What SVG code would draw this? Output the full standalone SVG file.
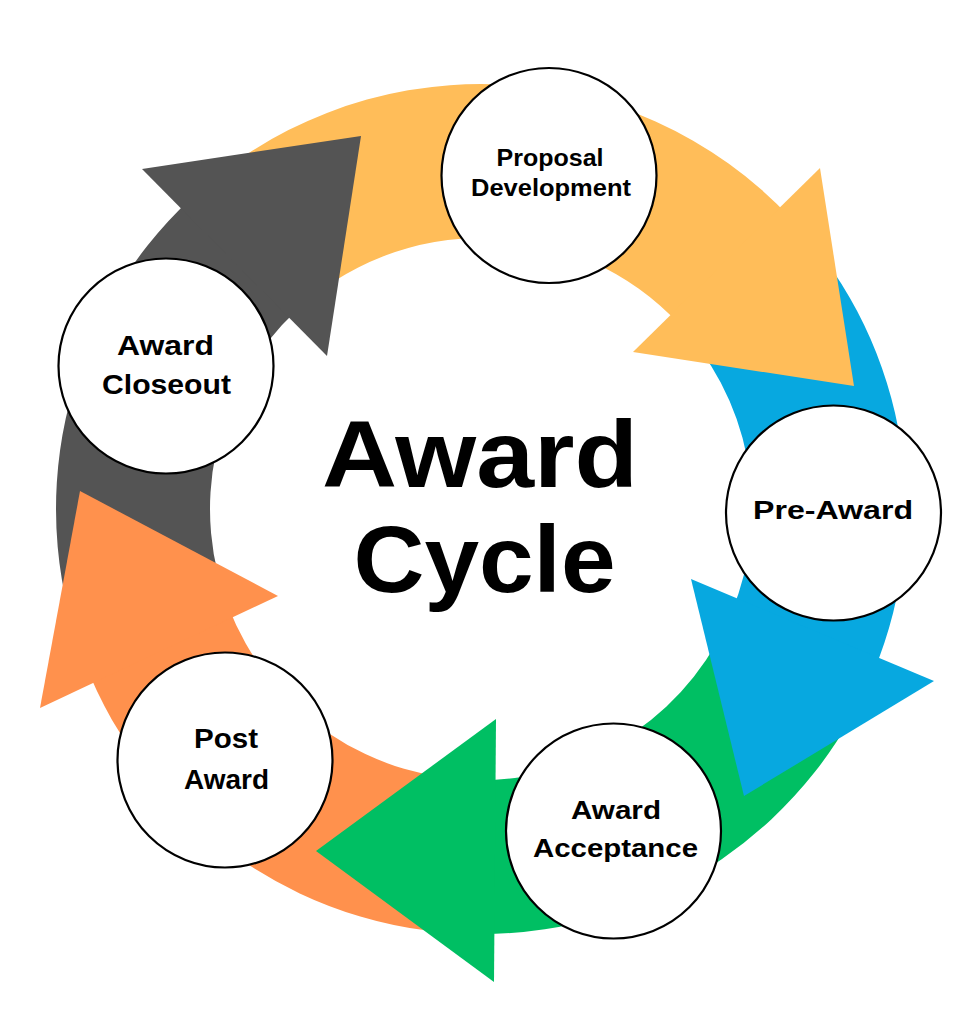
<svg xmlns="http://www.w3.org/2000/svg" width="963" height="1024" viewBox="0 0 963 1024">
  <style>
    .node circle { fill: #ffffff; stroke: #000000; stroke-width: 2.2; }
    .lbl { font-family: "Liberation Sans", Arial, sans-serif; font-weight: bold; fill: #000000; text-anchor: middle; }
    .big { font-family: "Liberation Sans", Arial, sans-serif; font-weight: bold; fill: #000000; text-anchor: middle; font-size: 94px; }
    .gray { fill: #545454; }
    .yellow { fill: #FFBD59; }
    .blue { fill: #07A8E0; }
    .green { fill: #00BF63; }
    .orange { fill: #FF914D; }
  </style>
  <rect x="0" y="0" width="963" height="1024" fill="#ffffff"/>
  <g id="connectors">
    <g id="ring-bodies">
      <path class="gray" d="M88.35,671.64 A425,425 0 0 1 191.15,198.18 L296.18,310.8 A271,271 0 0 0 230.63,612.71 Z"/>
      <path class="yellow" d="M185.77,203.28 A425,425 0 0 1 791.82,219.15 L679.2,324.18 A271,271 0 0 0 292.75,314.06 Z"/>
      <path class="blue" d="M784.13,211.11 A425,425 0 0 1 873.65,671.64 L731.37,612.71 A271,271 0 0 0 674.29,319.05 Z"/>
      <path class="green" d="M877.77,661.31 A425,425 0 0 1 481,934 L481,780 A271,271 0 0 0 734,606.12 Z"/>
      <path class="orange" d="M488.42,933.94 A425,425 0 0 1 84.23,661.31 L228,606.12 A271,271 0 0 0 485.73,779.96 Z"/>
    </g>
    <g id="arrowheads">
      <polygon class="gray" points="142,169 361,136 327,356"/>
      <polygon class="yellow" points="820,168 854,386 633,352"/>
      <polygon class="blue" points="934,681 744,796 691,579"/>
      <polygon class="green" points="496,719 316,851 494,982"/>
      <polygon class="orange" points="278,596 80,491 40,708"/>
    </g>
  </g>
  <g id="node-proposal" class="node">
    <circle cx="549" cy="175.5" r="107.5"/>
    <text class="lbl" font-size="23" x="550" y="166" textLength="107" lengthAdjust="spacingAndGlyphs">Proposal</text>
    <text class="lbl" font-size="23" x="551" y="196" textLength="160" lengthAdjust="spacingAndGlyphs">Development</text>
  </g>
  <g id="node-preaward" class="node">
    <circle cx="833.5" cy="513" r="107.5"/>
    <text class="lbl" font-size="26.5" x="833" y="519" textLength="160" lengthAdjust="spacingAndGlyphs">Pre-Award</text>
  </g>
  <g id="node-acceptance" class="node">
    <circle cx="613.5" cy="831" r="107.5"/>
    <text class="lbl" font-size="26.5" x="616" y="819" textLength="90" lengthAdjust="spacingAndGlyphs">Award</text>
    <text class="lbl" font-size="26.5" x="615.5" y="857" textLength="165" lengthAdjust="spacingAndGlyphs">Acceptance</text>
  </g>
  <g id="node-postaward" class="node">
    <circle cx="225" cy="760" r="107.5"/>
    <text class="lbl" font-size="27" x="226" y="748" textLength="64" lengthAdjust="spacingAndGlyphs">Post</text>
    <text class="lbl" font-size="27" x="226.5" y="789" textLength="85" lengthAdjust="spacingAndGlyphs">Award</text>
  </g>
  <g id="node-closeout" class="node">
    <circle cx="166" cy="366" r="107.5"/>
    <text class="lbl" font-size="28" x="165.5" y="355" textLength="97" lengthAdjust="spacingAndGlyphs">Award</text>
    <text class="lbl" font-size="28" x="166.5" y="394" textLength="129" lengthAdjust="spacingAndGlyphs">Closeout</text>
  </g>
  <g id="title">
    <text class="big" x="480" y="487" textLength="316" lengthAdjust="spacingAndGlyphs">Award</text>
    <text class="big" x="484.5" y="592" textLength="262" lengthAdjust="spacingAndGlyphs">Cycle</text>
  </g>
</svg>
